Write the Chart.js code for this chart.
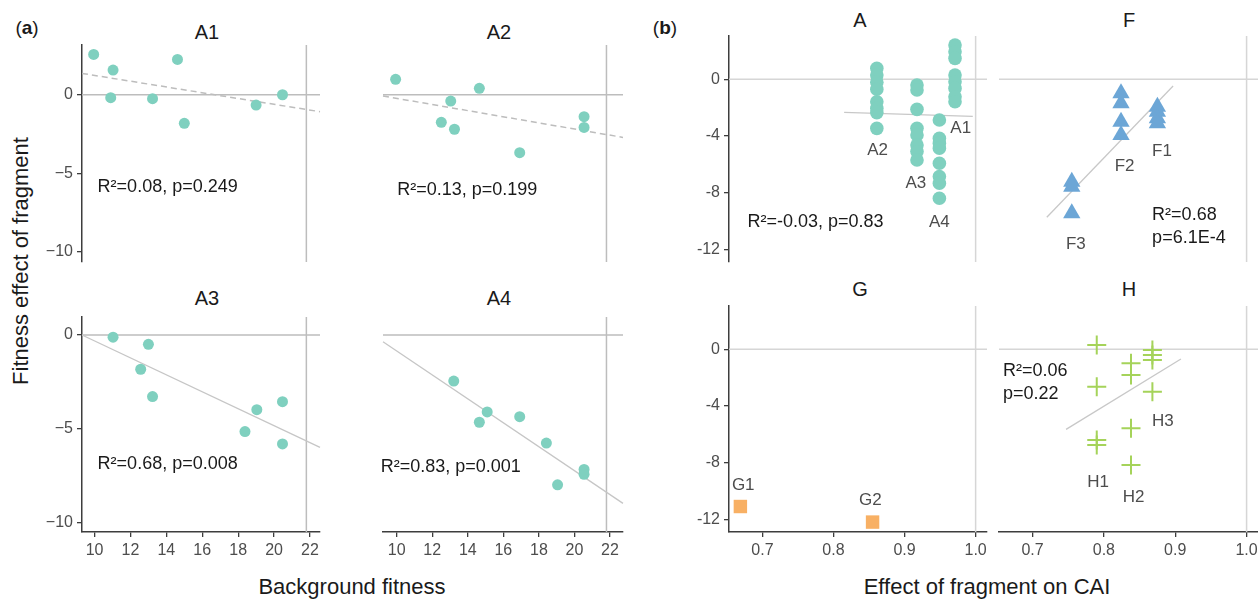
<!DOCTYPE html>
<html>
<head>
<meta charset="utf-8">
<script src="https://cdn.jsdelivr.net/npm/chart.js@4"></script>
<style>
  html, body { margin: 0; padding: 0; background: #fff; }
  body { width: 1258px; height: 600px; position: relative; overflow: hidden; font-family: "Liberation Sans", Arial, sans-serif; }
  canvas { position: absolute; }
  .txt { position: absolute; transform: translate(-50%, -50%); white-space: nowrap; color: #1a1a1a; line-height: 1; }
  .title { font-size: 20px; }
  .tag { font-size: 19px; }
  .axt { font-size: 22px; }
  .rot { transform: translate(-50%, -50%) rotate(-90deg); }
</style>
</head>
<body>

<div class="txt tag" style="left:27px;top:27px">(<b>a</b>)</div>
<div class="txt tag" style="left:665px;top:27px">(<b>b</b>)</div>

<div class="txt title" style="left:207px;top:32px">A1</div>
<div class="txt title" style="left:499px;top:32px">A2</div>
<div class="txt title" style="left:207px;top:298px">A3</div>
<div class="txt title" style="left:499px;top:298px">A4</div>
<div class="txt title" style="left:860px;top:20px">A</div>
<div class="txt title" style="left:1129px;top:20px">F</div>
<div class="txt title" style="left:860px;top:289px">G</div>
<div class="txt title" style="left:1129px;top:289px">H</div>

<div class="txt axt" style="left:352px;top:587px">Background fitness</div>
<div class="txt axt" style="left:987px;top:587px">Effect of fragment on CAI</div>
<div class="txt axt rot" style="left:21px;top:261px">Fitness effect of fragment</div>

<script>
// ---- (a) background fitness vs fitness effect ----
const bgA1 = [9.95, 11.03, 10.9, 13.23, 14.62, 15.0, 19.0, 20.47];
const fxA1 = [2.57, 1.57, -0.19, -0.25, 2.25, -1.82, -0.66, 0.0];
const bgA2 = [9.94, 14.65, 13.04, 12.51, 13.25, 16.92, 20.54, 20.54];
const fxA2 = [0.98, 0.41, -0.4, -1.76, -2.2, -3.69, -1.4, -2.08];
const bgA3 = [11.03, 13.0, 12.57, 13.23, 19.04, 20.47, 18.38, 20.47];
const fxA3 = [-0.12, -0.5, -1.83, -3.29, -3.99, -3.56, -5.16, -5.82];
const bgA4 = [13.21, 15.09, 14.65, 16.92, 18.42, 20.54, 20.54, 19.05];
const fxA4 = [-2.46, -4.11, -4.66, -4.36, -5.77, -7.18, -7.44, -8.0];

// fitted lines (end points)
const fitA1X = [9.3, 22.56], fitA1Y = [1.36, -1.08];
const fitA2X = [9.23, 22.73], fitA2Y = [-0.08, -2.72];
const fitA3X = [9.3, 22.56], fitA3Y = [0.0, -6.0];
const fitA4X = [9.23, 22.73], fitA4Y = [-0.36, -8.99];

const statsA = ["R\u00b2=0.08, p=0.249", "R\u00b2=0.13, p=0.199", "R\u00b2=0.68, p=0.008", "R\u00b2=0.83, p=0.001"];

// ---- (b) effect on CAI vs fitness effect ----
const caiA = [0.971, 0.861, 0.9175, 0.949];          // A1, A2, A3, A4
const effA1 = [2.42, 1.95, 1.48, 0.3, -0.17, -0.64, -1.23, -1.58];
const effA2 = [0.78, 0.3, -0.2, -0.7, -1.58, -2.05, -2.35, -3.46];
const effA3 = [-0.4, -0.75, -2.12, -3.46, -3.93, -4.64, -5.1, -5.7];
const effA4 = [-2.87, -4.16, -4.52, -4.87, -5.93, -6.87, -7.34, -8.4];

const caiF = [0.875, 0.824, 0.755];                  // F1, F2, F3
const effF1 = [-1.93, -2.29, -2.75, -3.1];
const effF2 = [-0.99, -1.69, -2.99, -3.93];
const effF3 = [-7.23, -7.58, -9.46];

const caiG = [0.669, 0.855];                         // G1, G2
const effG = [-11.1, -12.2];

const caiH = [0.79, 0.838, 0.868];                   // H1, H2, H3
const effH1 = [0.3, -2.64, -6.4, -6.75];
const effH2 = [-0.99, -1.81, -5.58, -8.17];
const effH3 = [-0.05, -0.4, -0.75, -2.99];

const fitAX = [0.815, 0.996], fitAY = [-2.33, -2.61];
const fitFX = [0.72, 0.897], fitFY = [-9.74, -0.47];
const fitHX = [0.747, 0.908], fitHY = [-5.65, -0.68];

// axes
const fitTicksX = [10, 12, 14, 16, 18, 20, 22];
const fitTicksY = [0, -5, -10];
const caiTicksX = [0.7, 0.8, 0.9, 1.0];
const caiTicksY = [0, -4, -8, -12];
const refY = 0;
const refFitX = 21.8;
const refCaiX = 1.0;

const FONT = '"Liberation Sans", Arial, sans-serif';
const AXIS = "#3d3d3d";
const TEAL = "#7fd0bf";
const BLUE = "#6ca6d6";
const ORANGE = "#f8b064";
const GREEN = "#a5d35a";

// text placed in data coordinates
const notesPlugin = {
    id: "notes",
    afterDatasetsDraw(chart, args, opts) {
        const ctx = chart.ctx;
        const x = chart.scales.x, y = chart.scales.y;
        ctx.save();
        (opts.items || []).forEach(n => {
            ctx.font = (n.size || 17) + "px " + FONT;
            ctx.fillStyle = n.color || "#1a1a1a";
            ctx.textAlign = n.align || "center";
            ctx.textBaseline = "middle";
            ctx.fillText(n.text, x.getPixelForValue(n.x), y.getPixelForValue(n.y));
        });
        ctx.restore();
    }
};
Chart.register(notesPlugin);

function pts(xs, ys) { return xs.map((x, i) => ({ x: x, y: ys[i] })); }
function col(x, ys) { return ys.map(y => ({ x: x, y: y })); }

function pointSet(data, style, r, color) {
    return {
        data: data, pointStyle: style, pointRadius: r,
        backgroundColor: color, borderColor: color,
        borderWidth: style === "cross" ? 2 : 0,
        showLine: false, clip: false, order: 0
    };
}

function lineSet(xs, ys, color, width, dash) {
    return {
        data: pts(xs, ys), showLine: true, pointRadius: 0,
        borderColor: color, borderWidth: width, borderDash: dash || [],
        clip: false, order: 2
    };
}

function makePanel(s) {
    const P = 14, AW = 50, AH = 32;
    const padL = s.showY ? AW : P, padB = s.showX ? AH : P;

    const cv = document.createElement("canvas");
    cv.width = s.rect[2] + padL + P;
    cv.height = s.rect[3] + P + padB;
    cv.style.left = (s.rect[0] - padL) + "px";
    cv.style.top = (s.rect[1] - P) + "px";
    document.body.appendChild(cv);

    const refs = [
        lineSet([s.x[0], s.x[1]], [refY, refY], s.refColor, 1.5),
        lineSet([s.refX, s.refX], [s.y[0], s.y[1]], s.refColor, 1.5)
    ];

    const tickFont = { family: FONT, size: 16 };
    const border = { display: true, color: AXIS, width: 1.5 };
    const grid = { display: true, drawOnChartArea: false, drawTicks: true, tickLength: 5, color: AXIS, lineWidth: 1.3 };

    new Chart(cv, {
        type: "scatter",
        data: { datasets: s.sets.concat(refs) },
        options: {
            responsive: false,
            animation: false,
            devicePixelRatio: 1,
            events: [],
            layout: { padding: { left: s.showY ? 0 : P, right: P, top: P, bottom: s.showX ? 0 : P } },
            plugins: {
                legend: { display: false },
                tooltip: { enabled: false },
                notes: { items: s.notes }
            },
            scales: {
                x: {
                    type: "linear", min: s.x[0], max: s.x[1], display: s.showX,
                    afterBuildTicks: sc => { sc.ticks = s.xTicks.map(v => ({ value: v })); },
                    afterFit: sc => { sc.height = s.showX ? AH : 0; },
                    border: border, grid: grid,
                    ticks: { color: "#4d4d4d", font: tickFont, padding: 4, maxRotation: 0, autoSkip: false, callback: s.xFmt }
                },
                y: {
                    type: "linear", min: s.y[0], max: s.y[1], display: s.showY,
                    afterBuildTicks: sc => { sc.ticks = s.yTicks.map(v => ({ value: v })); },
                    afterFit: sc => { sc.width = s.showY ? AW : 0; },
                    border: border, grid: grid,
                    ticks: { color: "#4d4d4d", font: tickFont, padding: 4, autoSkip: false, callback: s.yFmt }
                }
            }
        }
    });
}

const fmtInt = v => String(v);
const fmtMinus = v => v < 0 ? "\u2212" + (-v) : String(v);
const fmtOne = v => v.toFixed(1);

const REF_A = "#bdbdbd";
const REF_B = "#d6d6d6";
const FIT_B = "#c8c8c8";

// ---- panel (a) ----
const commonA = { xTicks: fitTicksX, yTicks: fitTicksY, xFmt: fmtInt, yFmt: fmtMinus, refX: refFitX, refColor: REF_A };

makePanel(Object.assign({}, commonA, {
    rect: [82, 45, 238, 217], x: [9.3, 22.56], y: [-10.66, 3.17], showX: false, showY: true,
    sets: [pointSet(pts(bgA1, fxA1), "circle", 5.5, TEAL), lineSet(fitA1X, fitA1Y, REF_A, 1.5, [6, 4])],
    notes: [{ x: 10.17, y: -5.9, text: statsA[0], align: "left", size: 18 }]
}));
makePanel(Object.assign({}, commonA, {
    rect: [383, 45, 240, 217], x: [9.23, 22.73], y: [-10.66, 3.17], showX: false, showY: false,
    sets: [pointSet(pts(bgA2, fxA2), "circle", 5.5, TEAL), lineSet(fitA2X, fitA2Y, REF_A, 1.5, [6, 4])],
    notes: [{ x: 10.03, y: -6.07, text: statsA[1], align: "left", size: 18 }]
}));
makePanel(Object.assign({}, commonA, {
    rect: [82, 317, 238, 215], x: [9.3, 22.56], y: [-10.52, 0.96], showX: true, showY: true,
    sets: [pointSet(pts(bgA3, fxA3), "circle", 5.5, TEAL), lineSet(fitA3X, fitA3Y, "#c6c6c6", 1.3)],
    notes: [{ x: 10.17, y: -6.89, text: statsA[2], align: "left", size: 18 }]
}));
makePanel(Object.assign({}, commonA, {
    rect: [383, 317, 240, 215], x: [9.23, 22.73], y: [-10.52, 0.96], showX: true, showY: false,
    sets: [pointSet(pts(bgA4, fxA4), "circle", 5.5, TEAL), lineSet(fitA4X, fitA4Y, "#c6c6c6", 1.3)],
    notes: [{ x: 9.1, y: -7.03, text: statsA[3], align: "left", size: 18 }]
}));

// ---- panel (b) ----
const commonB = { x: [0.653, 1.016], y: [-12.9, 3.06], xTicks: caiTicksX, yTicks: caiTicksY, xFmt: fmtOne, yFmt: fmtInt, refX: refCaiX, refColor: REF_B };
const LBL = "#4d4d4d";

makePanel(Object.assign({}, commonB, {
    rect: [729, 36, 258, 226], showX: false, showY: true,
    sets: [
        pointSet(col(caiA[0], effA1), "circle", 6.8, TEAL),
        pointSet(col(caiA[1], effA2), "circle", 6.8, TEAL),
        pointSet(col(caiA[2], effA3), "circle", 6.8, TEAL),
        pointSet(col(caiA[3], effA4), "circle", 6.8, TEAL),
        lineSet(fitAX, fitAY, FIT_B, 1.3)
    ],
    notes: [
        { x: 0.979, y: -3.46, text: "A1", color: LBL },
        { x: 0.862, y: -5.04, text: "A2", color: LBL },
        { x: 0.916, y: -7.32, text: "A3", color: LBL },
        { x: 0.949, y: -10.08, text: "A4", color: LBL },
        { x: 0.679, y: -10.09, text: "R\u00b2=-0.03, p=0.83", align: "left", size: 18 }
    ]
}));
makePanel(Object.assign({}, commonB, {
    rect: [999, 36, 259, 226], showX: false, showY: false,
    sets: [
        pointSet(col(caiF[0], effF1), "triangle", 10, BLUE),
        pointSet(col(caiF[1], effF2), "triangle", 10, BLUE),
        pointSet(col(caiF[2], effF3), "triangle", 10, BLUE),
        lineSet(fitFX, fitFY, FIT_B, 1.3)
    ],
    notes: [
        { x: 0.8815, y: -5.11, text: "F1", color: LBL },
        { x: 0.829, y: -6.12, text: "F2", color: LBL },
        { x: 0.7607, y: -11.66, text: "F3", color: LBL },
        { x: 0.8676, y: -9.58, text: "R\u00b2=0.68", align: "left", size: 18 },
        { x: 0.8676, y: -11.22, text: "p=6.1E-4", align: "left", size: 18 }
    ]
}));
makePanel(Object.assign({}, commonB, {
    rect: [729, 306, 258, 226], showX: true, showY: true,
    sets: [pointSet(pts(caiG, effG), "rect", 9.5, ORANGE)],
    notes: [
        { x: 0.673, y: -9.63, text: "G1", color: LBL },
        { x: 0.852, y: -10.66, text: "G2", color: LBL }
    ]
}));
makePanel(Object.assign({}, commonB, {
    rect: [999, 306, 259, 226], showX: true, showY: false,
    sets: [
        pointSet(col(caiH[0], effH1), "cross", 9.5, GREEN),
        pointSet(col(caiH[1], effH2), "cross", 9.5, GREEN),
        pointSet(col(caiH[2], effH3), "cross", 9.5, GREEN),
        lineSet(fitHX, fitHY, FIT_B, 1.3)
    ],
    notes: [
        { x: 0.792, y: -9.38, text: "H1", color: LBL },
        { x: 0.8417, y: -10.48, text: "H2", color: LBL },
        { x: 0.8825, y: -5.05, text: "H3", color: LBL },
        { x: 0.6586, y: -1.54, text: "R\u00b2=0.06", align: "left", size: 18 },
        { x: 0.6586, y: -3.15, text: "p=0.22", align: "left", size: 18 }
    ]
}));
</script>
</body>
</html>
